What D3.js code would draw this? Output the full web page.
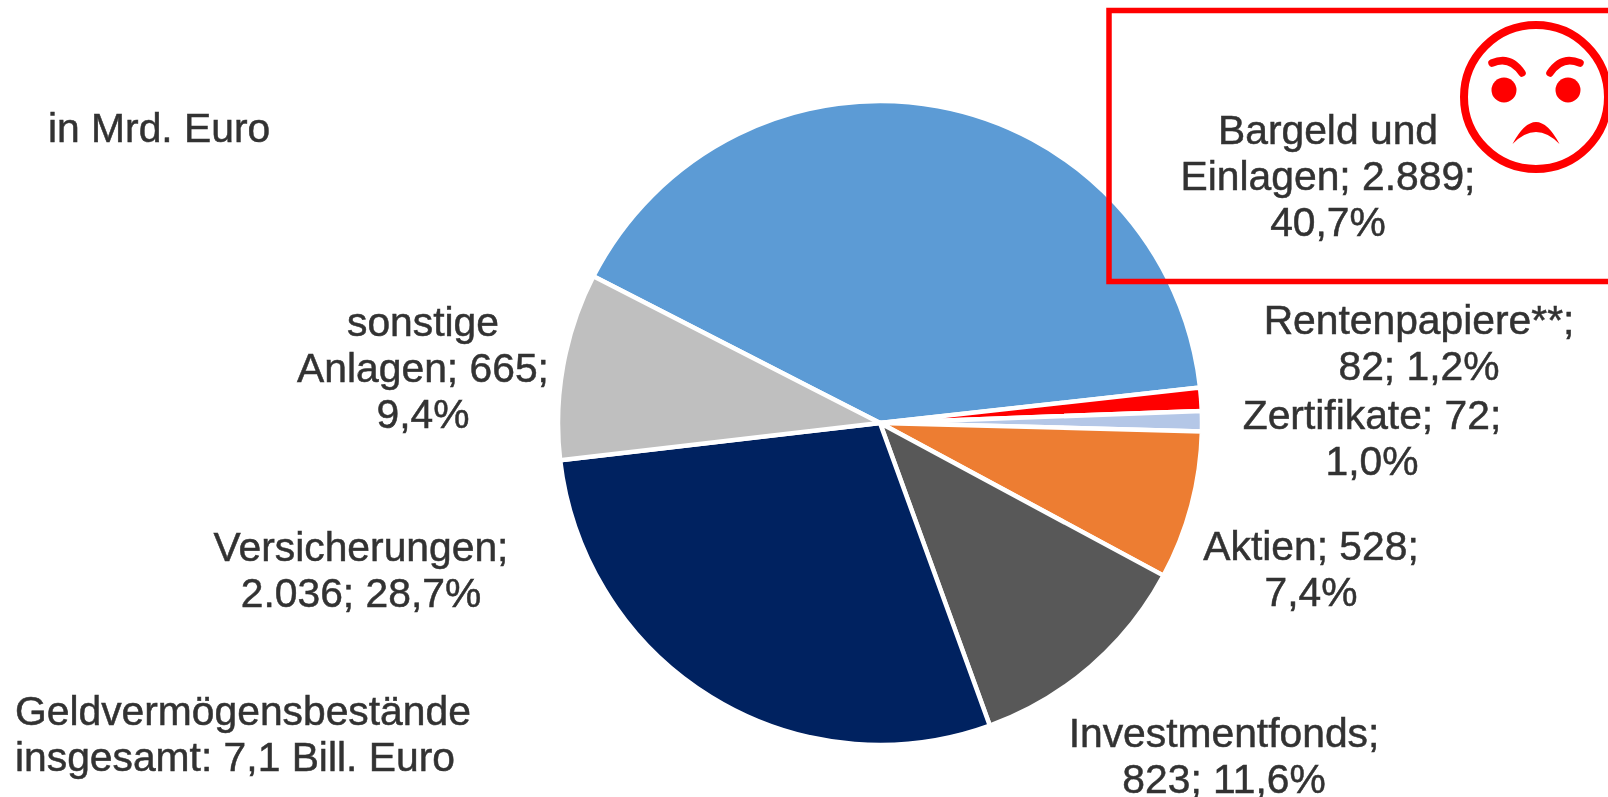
<!DOCTYPE html>
<html>
<head>
<meta charset="utf-8">
<script src="https://cdn.jsdelivr.net/npm/d3@7"></script>
<style>
html, body { margin: 0; padding: 0; background: #fff; overflow: hidden; }
svg { display: block; }
</style>
</head>
<body>
<svg id="chart" width="1608" height="797"></svg>
<script>
// in Mrd. Euro
const categories = ["Bargeld und Einlagen", "Rentenpapiere**", "Zertifikate", "Aktien", "Investmentfonds", "Versicherungen", "sonstige Anlagen"];
const values = [2889, 82, 72, 528, 823, 2036, 665];
const sliceColors = ["#5b9bd5", "#ff0000", "#b4c7e7", "#ed7d31", "#595959", "#002060", "#bfbfbf"];
const labelLines = [
    ["Bargeld und", "Einlagen; 2.889;", "40,7%"],
    ["Rentenpapiere**;", "82; 1,2%"],
    ["Zertifikate; 72;", "1,0%"],
    ["Aktien; 528;", "7,4%"],
    ["Investmentfonds;", "823; 11,6%"],
    ["Versicherungen;", "2.036; 28,7%"],
    ["sonstige", "Anlagen; 665;", "9,4%"]
];
const notes = [
    ["in Mrd. Euro"],
    ["Geldvermögensbestände", "insgesamt: 7,1 Bill. Euro"]
];

const labelPos = [[1328, 144], [1419, 334], [1372, 429], [1311, 560], [1224, 747], [361, 561], [423, 336]];
const notePos = [[48, 142], [15, 725]];
const lineStep = 46;

const svg = d3.select("#chart");
const red = "#ff0000";

svg.append("defs").append("filter")
    .attr("id", "soft")
    .append("feGaussianBlur")
    .attr("stdDeviation", 0.7);

const startAngle = -62.9 * Math.PI / 180;
const pie = d3.pie().sort(null)
    .startAngle(startAngle)
    .endAngle(startAngle + 2 * Math.PI);
const arc = d3.arc().innerRadius(0).outerRadius(322);

const chart = svg.append("g").attr("filter", "url(#soft)");

chart.append("g")
    .attr("transform", "translate(880,423)")
    .selectAll("path")
    .data(pie(values))
    .enter().append("path")
    .attr("d", arc)
    .attr("fill", (d, i) => sliceColors[i])
    .attr("stroke", "#fff")
    .attr("stroke-width", 4.5)
    .attr("stroke-linejoin", "round");

const textG = chart.append("g")
    .attr("font-family", "'Liberation Sans', Arial, sans-serif")
    .attr("font-size", 40.8)
    .attr("fill", "#333")
    .attr("stroke", "#333")
    .attr("stroke-width", 0.5);

function addText(lines, pos, anchor) {
    const t = textG.append("text")
        .attr("text-anchor", anchor)
        .attr("transform", `translate(${pos[0]},${pos[1]})`);
    t.selectAll("tspan")
        .data(lines)
        .enter().append("tspan")
        .attr("x", 0)
        .attr("y", (d, i) => i * lineStep)
        .text(d => d);
}

labelLines.forEach((lines, i) => addText(lines, labelPos[i], "middle"));
notes.forEach((lines, i) => addText(lines, notePos[i], "start"));

// red frame round the label, runs off the right edge
svg.append("rect")
    .attr("x", 1109)
    .attr("y", 10.5)
    .attr("width", 520)
    .attr("height", 271)
    .attr("fill", "none")
    .attr("stroke", red)
    .attr("stroke-width", 5.5);

// angry face
const face = svg.append("g")
    .attr("transform", "translate(1536,97)");

face.append("circle")
    .attr("r", 72)
    .attr("fill", "#fff")
    .attr("stroke", red)
    .attr("stroke-width", 8);

face.selectAll("circle.eye")
    .data([-32, 32])
    .enter().append("circle")
    .attr("class", "eye")
    .attr("cx", d => d)
    .attr("cy", -7)
    .attr("r", 12.5)
    .attr("fill", red);

face.selectAll("path.brow")
    .data([-1, 1])
    .enter().append("path")
    .attr("class", "brow")
    .attr("d", d => {
        const p = d3.path();
        p.moveTo(d * 44, -34);
        p.quadraticCurveTo(d * 26, -42, d * 14, -24);
        return p.toString();
    })
    .attr("fill", "none")
    .attr("stroke", red)
    .attr("stroke-width", 7.5)
    .attr("stroke-linecap", "round");

const mouth = d3.path();
mouth.moveTo(-23.5, 47);
mouth.quadraticCurveTo(0, 3, 23.5, 47);
mouth.quadraticCurveTo(0, 23, -23.5, 47);
mouth.closePath();
face.append("path")
    .attr("d", mouth.toString())
    .attr("fill", red);
</script>
</body>
</html>
